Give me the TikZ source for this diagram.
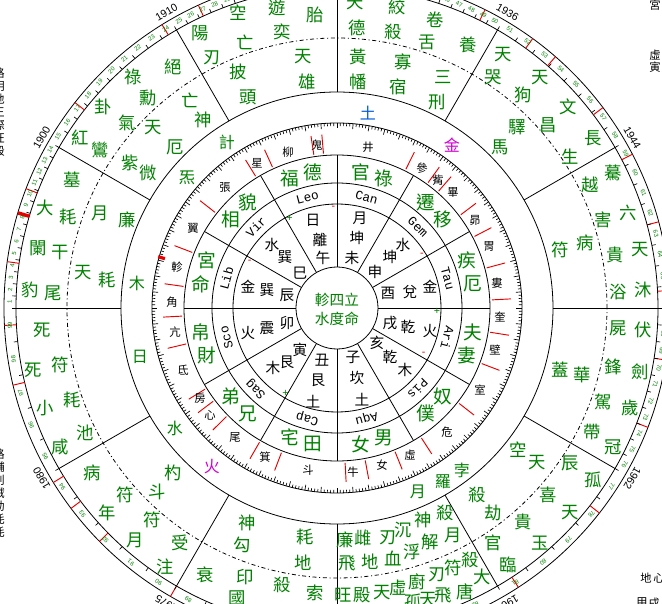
\documentclass[tikz,border=0pt]{standalone}
\usepackage{fontspec}
\newfontfamily\cjk{Noto Sans CJK TC}
\setmonofont{Liberation Mono}
\setsansfont{Liberation Sans}
\definecolor{gr}{RGB}{0,128,0}
\definecolor{rd}{RGB}{230,0,0}
\definecolor{mg}{RGB}{210,0,210}
\definecolor{bl}{RGB}{0,90,220}
\tikzset{
  gs/.style={text=gr, font=\cjk\fontsize{13}{13}\selectfont, inner sep=0pt},
  pal/.style={text=gr, font=\cjk\fontsize{14}{14}\selectfont, inner sep=0pt},
  inr/.style={font=\cjk\fontsize{11}{11}\selectfont, inner sep=0pt},
  mans/.style={font=\cjk\fontsize{8.5}{8.5}\selectfont, inner sep=0pt},
  zod/.style={font=\ttfamily\fontsize{9.5}{9.5}\selectfont, inner sep=0pt},
  plan/.style={font=\cjk\fontsize{12}{12}\selectfont, inner sep=0pt},
  agenum/.style={text=gr, font=\sffamily\fontsize{4.5}{4.5}\selectfont, inner sep=0pt},
  yearlab/.style={font=\sffamily\fontsize{8}{8}\selectfont, inner sep=0pt},
  edge/.style={font=\cjk\fontsize{8.5}{8.5}\selectfont, inner sep=0pt},
  sign/.style={font=\sffamily\fontsize{8}{8}\selectfont, inner sep=0pt},
  ln/.style={line width=0.6pt, black},
  redln/.style={line width=0.7pt, rd},
  dashc/.style={line width=0.6pt, dash pattern=on 3pt off 2pt on 0.8pt off 2pt},
}
\begin{document}
\begin{tikzpicture}[x=0.75pt,y=0.75pt]
\useasboundingbox (-337,-296) rectangle (325,308);
\clip (-337,-296) rectangle (325,308);
\fill[white] (-337,-296) rectangle (325,308);

% ---- circles ----
\foreach \r in {41,104,125,153,185,216,321,333}
  \draw[ln] (0,0) circle (\r);
\draw[dashc] (0,0) circle (270);

% ---- radial lines ----
\foreach \a in {0,30,...,330}{
  \draw[ln] (\a:41) -- (\a:153);
  \draw[ln] (\a:216) -- (\a:321);
}

% ---- ruler ticks ----
\foreach \d in {0,...,359}{
  \pgfmathtruncatemacro\m{mod(\d,5)}
  \ifnum\m=0 \draw[line width=0.5pt] (\d:185) -- (\d:179.5);
  \else \draw[line width=0.5pt] (\d:185) -- (\d:182);\fi
}

% ---- mansion boundaries (red) ----
\foreach \a in {-166.6,-148.4,-143,-135.5,-120,-111,-87,-79.5,-68,-57,-38,-21,-9,3,15,27.5,37,49,54,63.6,95,98.6,114.6,121.7,141.9,159,172,183}{
  \draw[redln] (\a:155) -- (\a:174);
  \draw[redln] (\a:321) -- (\a:333);
}
% ascendant markers
\draw[rd, line width=2.4pt] (164:179) -- (164:186);
\draw[rd, line width=2.6pt] (163.4:321) -- (163.4:333);

% ---- age ring ----
\foreach \s/\f/\n in {180/1/14,150/15/10,120/25/13,90/38/13,60/51/8,30/59/8,0/67/10,-30/77/5,-60/82/3,-90/85/5,-120/90/5,-150/95/5}{
  \foreach \i in {1,...,\n}{
    \pgfmathsetmacro\ang{\s-(\i-0.5)*30/\n}
    \pgfmathsetmacro\tk{\s-\i*30/\n}
    \pgfmathtruncatemacro\num{\f+\i-1}
    \node[agenum, rotate=\ang-90] at (\ang:327.5) {\num};
    \draw[line width=0.5pt] (\tk:321) -- (\tk:325);
  }
}
% year labels
\foreach \a/\y in {180/1886,150/1900,120/1910,90/1923,60/1936,30/1944,0/1952,-30/1962,-60/1967,-90/1970,-120/1975,-150/1980}
  \node[yearlab, rotate=\a-90] at (\a:341) {\y};

% ---- centre ----
\node[text=gr, font=\cjk\fontsize{11}{11}\selectfont, inner sep=0pt] (ctr1) at (0,8) {軫四立};
\node[text=gr, font=\cjk\fontsize{11}{11}\selectfont, inner sep=0pt] (ctr2) at (0,-11) {水度命};

% ---- inner ring characters ----
\foreach \x/\y/\c in {313/220/日,320/240/離,323/258/午,
 360/218/月,357/238/坤,352/258/未,
 403/245/水,390/257/坤,375/272/申,
 430/287/金,410/292/兌,388/293/酉,
 430/331/火,408/327/乾,390/323/戌,
 405/370/木,390/357/乾,377/343/亥,
 362/400/土,357/378/坎,353/357/子,
 313/402/土,318/380/艮,322/360/丑,
 273/368/木,287/362/艮,300/350/寅,
 248/333/火,267/328/震,287/323/卯,
 248/287/金,267/290/巽,287/295/辰,
 272/245/水,285/257/巽,300/273/巳}
  \node[inr] at ({\x-337},{308-\y}) {\c};

% +/- marks
\foreach \a/\r in {92/100,152/99,32/100,-28/98}
  \node[sign, text=rd] at (\a:\r) {-};
\foreach \a/\r in {118/101,-2/100,-121/100}
  \node[sign, text=gr] at (\a:\r) {+};

% ---- zodiac ring ----
\foreach \a/\z in {105/Leo,75/Can,45/Gem,15/Tau,-15/Ari,-45/Pis,-75/Aqu,-105/Cap,-135/Sag,-165/Sco,165/Lib,135/Vir}
  \node[zod, rotate=\a-90] at (\a:114.5) {\z};

% ---- palaces ----
\foreach \a/\p/\q in {165/命/宮,135/相/貌,105/福/德,75/官/祿,45/遷/移,15/疾/厄,-15/夫/妻,-45/奴/僕,-75/男/女,-105/田/宅,-135/兄/弟,-165/財/帛}{
  \node[pal] at (\a+5:138) {\p};
  \node[pal] at (\a-5:138) {\q};
}

% ---- mansions ----
\foreach \x/\y/\c in {368/147/井,317/145/鬼,288/152/柳,257/163/星,225/187/張,193/228/翼,177/267/軫,172/302/角,175/332/亢,183/370/氐,200/398/房,210/415/心,235/437/尾,265/457/箕,308/470/斗,353/472/牛,382/465/女,410/455/虛,447/432/危,480/390/室,495/350/壁,500/317/奎,497/283/婁,489/247/胃,475/220/昴,453/192/畢,438/180/觜,422/168/參}
  \node[mans] at ({\x-337},{308-\y}) {\c};

% ---- planets ----
\node[plan, text=bl] at ({368-337},{308-113}) {土};
\node[plan, text=mg] at ({452-337},{308-145}) {金};
\node[plan, text=mg] at ({212-337},{308-467}) {火};
\foreach \x/\y/\c in {227/142/計,187/178/炁,137/283/木,140/357/日,175/428/水,418/492/月,443/482/羅,462/470/孛}
  \node[plan, text=gr] at ({\x-337},{308-\y}) {\c};

% ---- outer stars ----
\foreach \x/\y/\c in {315/15/胎,277/8/遊,282/32/奕,238/13/空,245/42/亡,200/33/陽,212/58/刃,303/57/天,307/82/雄,238/72/披,248/97/頭,
355/3/天,357/28/德,397/7/絞,393/32/殺,435/20/卷,427/42/舌,468/45/養,358/57/黃,358/82/幡,403/62/寡,398/87/宿,443/77/三,437/102/刑,
503/55/天,493/77/哭,540/78/天,523/95/狗,568/107/文,548/125/昌,517/127/驛,500/147/馬,593/138/長,570/157/生,
613/173/驀,590/185/越,628/213/六,603/220/害,640/250/天,615/255/貴,585/243/病,560/250/符,643/290/沐,618/292/浴,
643/330/伏,618/328/屍,640/372/劍,613/367/鋒,630/408/歲,603/402/駕,582/375/華,560/370/蓋,613/447/冠,592/432/帶,
593/480/孤,570/463/辰,570/513/天,548/495/喜,537/463/天,518/450/空,540/543/玉,523/522/貴,493/513/劫,477/495/殺,508/565/臨,493/543/官,
445/513/殺,453/535/月,423/520/神,430/542/解,403/530/沉,412/552/浮,388/538/刃,393/558/血,363/538/雌,370/562/地,345/540/廉,347/563/飛,
343/595/旺,362/595/殿,382/593/天,398/588/虛,417/582/廚,437/575/刃,453/568/符,470/560/殺,482/577/大,465/592/唐,443/595/飛,428/600/天,413/602/孤,
247/523/神,242/545/勾,305/537/耗,303/563/地,205/575/衰,245/577/印,282/585/殺,315/593/索,237/598/國,
173/473/杓,157/492/斗,125/495/符,92/473/病,107/513/年,152/520/符,135/540/月,180/543/受,165/567/注,
42/330/死,33/370/死,60/365/符,45/408/小,72/400/耗,60/447/咸,85/433/池,
72/180/墓,45/208/大,68/217/耗,100/213/月,127/220/廉,38/248/闌,60/253/干,83/273/天,107/280/耗,30/290/豹,53/293/尾,
173/67/絕,133/77/祿,148/98/勳,103/107/卦,127/123/氣,190/100/亡,203/120/神,153/128/天,175/147/厄,80/138/紅,100/150/鸞,130/163/紫,148/173/微}
  \node[gs] at ({\x-337},{308-\y}) {\c};

% ---- text cut at the edges ----
\foreach \y/\c in {73/路,86/明,99/地,112/王,125/際,138/旺,151/殺}
  \node[edge] at ({-1-337},{308-\y}) {\c};
\foreach \y/\c in {454/路,467/輔,480/刑,493/賊,506/劫,519/耗,532/耗}
  \node[edge] at ({-1-337},{308-\y}) {\c};
\foreach \x/\y/\c in {655/5/宮,655/55/虛,655/67/寅,646/578/地,659/578/心,642/603/甲,654/603/戌}
  \node[edge] at ({\x-337},{308-\y}) {\c};
\end{tikzpicture}
\end{document}
